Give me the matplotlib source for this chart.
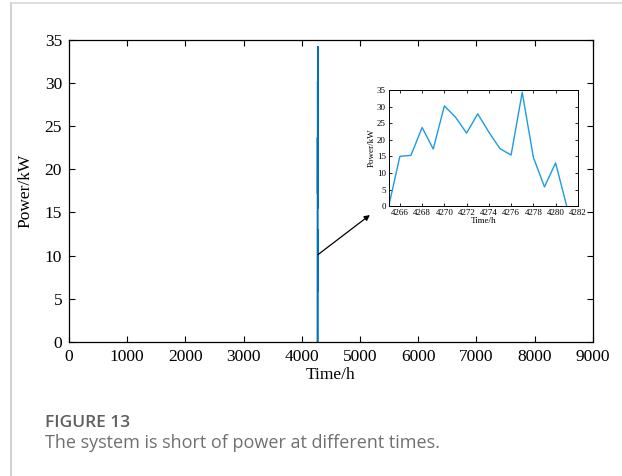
import matplotlib
matplotlib.use("Agg")
import matplotlib.pyplot as plt
from matplotlib.lines import Line2D

# Data
hours = [4265, 4266, 4267, 4268, 4269, 4270, 4271, 4272, 4273, 4274, 4275,
         4276, 4277, 4278, 4279, 4280, 4281]
power = [0, 15.0, 15.3, 23.7, 17.2, 30.2, 26.8, 22.0, 27.8, 22.3, 17.3,
         15.4, 34.3, 14.7, 5.8, 13.0, 0]
main_xticks = [0, 1000, 2000, 3000, 4000, 5000, 6000, 7000, 8000, 9000]
main_yticks = [0, 5, 10, 15, 20, 25, 30, 35]
inset_xticks = [4266, 4268, 4270, 4272, 4274, 4276, 4278, 4280, 4282]
inset_yticks = [0, 5, 10, 15, 20, 25, 30, 35]
arrow_start = (4277, 10.1)
arrow_end = (5170, 14.7)

serif = ["Liberation Serif", "DejaVu Serif"]
sans = ["Open Sans", "DejaVu Sans"]

fig = plt.figure(figsize=(6.22, 4.76), dpi=100)

# page borders
fig.add_artist(Line2D([0.018, 0.018], [0, 0.994], transform=fig.transFigure,
                      color="#c8c8c8", lw=1.2))
fig.add_artist(Line2D([0.018, 1.0], [0.994, 0.994], transform=fig.transFigure,
                      color="#d8d8d8", lw=1.2))

ax = fig.add_axes([0.111, 0.282, 0.842, 0.634])
ax.plot(hours, power, color="#0072BD", lw=0.9, solid_joinstyle="miter")
ax.set_xlim(0, 9000)
ax.set_ylim(0, 35)
ax.set_xticks(main_xticks)
ax.set_yticks(main_yticks)
ax.tick_params(direction="in", top=True, right=True, length=4, width=0.8,
               labelsize=12.5, pad=5)
for lab in ax.get_xticklabels() + ax.get_yticklabels():
    lab.set_fontfamily(serif)
for s in ax.spines.values():
    s.set_linewidth(0.9)
ax.set_xlabel("Time/h", fontsize=12.5, family=serif, labelpad=2)
ax.set_ylabel("Power/kW", fontsize=12.5, family=serif, labelpad=8)

ax.annotate("", xy=arrow_end, xytext=arrow_start,
            arrowprops=dict(arrowstyle="-|>", color="black", lw=0.9,
                            mutation_scale=8, shrinkA=0, shrinkB=0))

ins = fig.add_axes([0.625, 0.567, 0.304, 0.244])
ins.plot(hours, power, color="#1E9BE0", lw=1.0)
ins.set_xlim(4265, 4282)
ins.set_ylim(0, 35)
ins.set_xticks(inset_xticks)
ins.set_yticks(inset_yticks)
ins.tick_params(direction="in", top=True, right=True, length=2.5, width=0.6,
                labelsize=6.5, pad=2)
for lab in ins.get_xticklabels() + ins.get_yticklabels():
    lab.set_fontfamily(serif)
for s in ins.spines.values():
    s.set_linewidth(0.7)
ins.set_xlabel("Time/h", fontsize=6.5, family=serif, labelpad=0)
ins.set_ylabel("Power/kW", fontsize=6.5, family=serif, labelpad=1)

fig.text(0.072, 0.103, "FIGURE 13", fontsize=12.5, fontweight="semibold",
         family=sans, color="#5f5f5f", va="baseline")
fig.text(0.072, 0.059, "The system is short of power at different times.",
         fontsize=13, family=sans, color="#707070", va="baseline")

fig.savefig("out.png", dpi=100)
